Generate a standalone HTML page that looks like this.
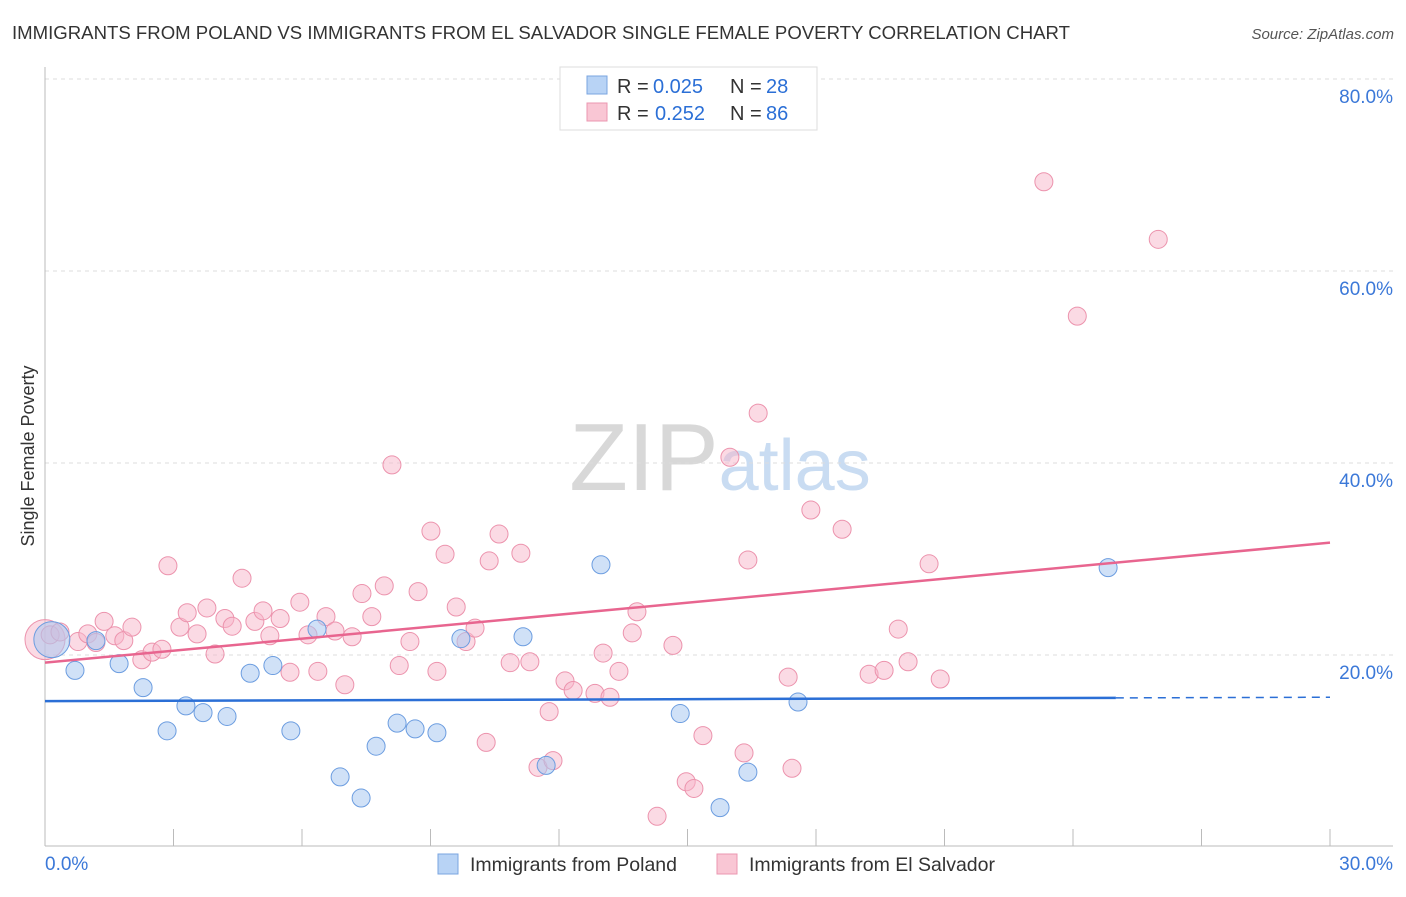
<!DOCTYPE html>
<html><head><meta charset="utf-8"><style>
body{margin:0;background:#fff;font-family:"Liberation Sans",sans-serif;}
svg text{font-family:"Liberation Sans",sans-serif;}
</style></head><body>
<svg id="chart" width="1406" height="892" xmlns="http://www.w3.org/2000/svg">
<text x="12" y="39" font-size="18" fill="#333" textLength="1058" lengthAdjust="spacingAndGlyphs">IMMIGRANTS FROM POLAND VS IMMIGRANTS FROM EL SALVADOR SINGLE FEMALE POVERTY CORRELATION CHART</text>
<text x="1394" y="39" font-size="15" fill="#555" text-anchor="end" font-style="italic">Source: ZipAtlas.com</text>
<text x="720" y="490" font-size="96" text-anchor="middle" fill="#ddd" font-family="Liberation Serif"><tspan fill="#d8d8d8">ZIP</tspan><tspan fill="#c9dcf2" font-family="Liberation Sans" font-size="72">atlas</tspan></text>
<text transform="translate(34,456) rotate(-90)" font-size="18" fill="#333" text-anchor="middle">Single Female Poverty</text>
<g id="grid"></g><g id="axes"></g><g id="pts"></g><g id="trend"></g>
<g>
<rect x="560" y="67" width="257" height="63" fill="#fff" stroke="#ddd"/>
<rect x="587" y="76" width="20" height="18" fill="#b8d3f5" stroke="#7aa5e0"/>
<text x="617" y="93" font-size="20" fill="#333">R =</text>
<text x="653" y="93" font-size="20" fill="#2b6fd6">0.025</text>
<text x="730" y="93" font-size="20" fill="#333">N =</text>
<text x="766" y="93" font-size="20" fill="#2b6fd6">28</text>
<rect x="587" y="103" width="20" height="18" fill="#f9c6d4" stroke="#eb97b0"/>
<text x="617" y="120" font-size="20" fill="#333">R =</text>
<text x="655" y="120" font-size="20" fill="#2b6fd6">0.252</text>
<text x="730" y="120" font-size="20" fill="#333">N =</text>
<text x="766" y="120" font-size="20" fill="#2b6fd6">86</text>
</g>
<g>
<rect x="438" y="854" width="20" height="20" fill="#b8d3f5" stroke="#7aa5e0"/>
<text x="470" y="871" font-size="19.5" fill="#333">Immigrants from Poland</text>
<rect x="717" y="854" width="20" height="20" fill="#f9c6d4" stroke="#eb97b0"/>
<text x="749" y="871" font-size="19.5" fill="#333">Immigrants from El Salvador</text>
</g>
</svg>
<script>
const blueX=[0.16,0.70,1.19,1.73,2.29,2.85,3.29,3.69,4.25,4.79,5.32,5.74,6.35,6.89,7.38,7.73,8.22,8.64,9.15,9.71,11.16,11.70,12.98,14.83,15.76,16.41,17.58,24.82];
const blueY=[21.6,18.4,21.5,19.1,16.6,12.1,14.7,14.0,13.6,18.1,18.9,12.1,22.7,7.3,5.1,10.5,12.9,12.3,11.9,21.7,21.9,8.5,29.4,13.9,4.1,7.8,15.1,29.1];
const pinkX=[0.0,0.12,0.35,0.77,1.00,1.19,1.38,1.63,1.84,2.03,2.26,2.50,2.73,2.87,3.15,3.32,3.55,3.78,3.97,4.20,4.37,4.60,4.90,5.09,5.25,5.49,5.72,5.95,6.14,6.37,6.56,6.77,7.00,7.17,7.40,7.63,7.92,8.10,8.27,8.52,8.71,9.01,9.15,9.34,9.60,9.83,10.04,10.30,10.37,10.60,10.86,11.11,11.32,11.51,11.77,11.86,12.14,12.33,12.84,13.03,13.19,13.40,13.71,13.82,14.29,14.66,14.97,15.15,15.36,15.99,16.32,16.41,16.65,17.35,17.44,17.88,18.61,19.24,19.59,19.92,20.15,20.64,20.90,23.32,24.10,25.99];
const pinkY=[21.6,22.1,22.4,21.4,22.2,21.3,23.5,22.0,21.5,22.9,19.5,20.3,20.6,29.3,22.9,24.4,22.2,24.9,20.1,23.8,23.0,28.0,23.5,24.6,22.0,23.8,18.2,25.5,22.1,18.3,24.0,22.5,16.9,21.9,26.4,24.0,27.2,39.8,18.9,21.4,26.6,32.9,18.3,30.5,25.0,21.4,22.8,10.9,29.8,32.6,19.2,30.6,19.3,8.3,14.1,9.0,17.3,16.3,16.0,20.2,15.6,18.3,22.3,24.5,3.2,21.0,6.8,6.1,11.6,40.6,9.8,29.9,45.2,17.7,8.2,35.1,33.1,18.0,18.4,22.7,19.3,29.5,17.5,69.3,55.3,63.3];
const yTicks=[20,40,60,80];
const blueTrend=[15.2,15.6];
const pinkTrend=[19.2,31.7];
const NS='http://www.w3.org/2000/svg';
const X=v=>45+v*1285/30, Y=v=>847-v*9.6;
function mk(t,a,p){const e=document.createElementNS(NS,t);for(const k in a)e.setAttribute(k,a[k]);p.appendChild(e);return e;}
const grid=document.getElementById('grid'),axes=document.getElementById('axes'),pts=document.getElementById('pts'),tr=document.getElementById('trend');
yTicks.forEach(t=>{
 const l=mk('line',{x1:45,x2:1393,y1:Y(t),y2:Y(t),stroke:'#ddd','stroke-dasharray':'4,4'},grid);
 
 
 const tx=mk('text',{x:1393,y:Y(t)+24,'font-size':19,fill:'#3b78d8','text-anchor':'end'},axes);tx.textContent=t.toFixed(1)+'%';
 
 
});
const ya=mk('line',{x1:45,x2:45,y1:67,y2:846,stroke:'#bbb'},axes);


const xa=mk('line',{x1:45,x2:1393,y1:846,y2:846,stroke:'#bbb'},axes);


for(let i=1;i<=10;i++){const t=mk('line',{x1:X(i*3),x2:X(i*3),y1:829,y2:846,stroke:'#bbb'},axes);
 
 }
[[0,'0.0%','start',45],[30,'30.0%','end',1393]].forEach(d=>{const t=mk('text',{x:d[3],y:870,'font-size':19,fill:'#3b78d8','text-anchor':d[2]},axes);t.textContent=d[1];
 
 });
pinkX.forEach((x,i)=>{const c=mk('circle',{cx:X(x),cy:Y(pinkY[i]),r:i==0?20:9,fill:'#f7b6c9','fill-opacity':0.5,stroke:'#ec93ad','stroke-width':1},pts);
 
 });
blueX.forEach((x,i)=>{const c=mk('circle',{cx:X(x),cy:Y(blueY[i]),r:i==0?18:9,fill:'#a9c8f0','fill-opacity':0.55,stroke:'#6c9de0','stroke-width':1},pts);
 
 });
const bAt=x=>blueTrend[0]+(blueTrend[1]-blueTrend[0])*x/30;
const b1=mk('line',{x1:X(0),y1:Y(bAt(0)),x2:X(25),y2:Y(bAt(25)),stroke:'#2b6fd6','stroke-width':2.5},tr);


const b2=mk('line',{x1:X(25),y1:Y(bAt(25)),x2:X(30),y2:Y(bAt(30)),stroke:'#2b6fd6','stroke-width':1.5,'stroke-dasharray':'8,6'},tr);


const p1=mk('line',{x1:X(0),y1:Y(pinkTrend[0]),x2:X(30),y2:Y(pinkTrend[1]),stroke:'#e8658f','stroke-width':2.5},tr);


</script>
</body></html>
